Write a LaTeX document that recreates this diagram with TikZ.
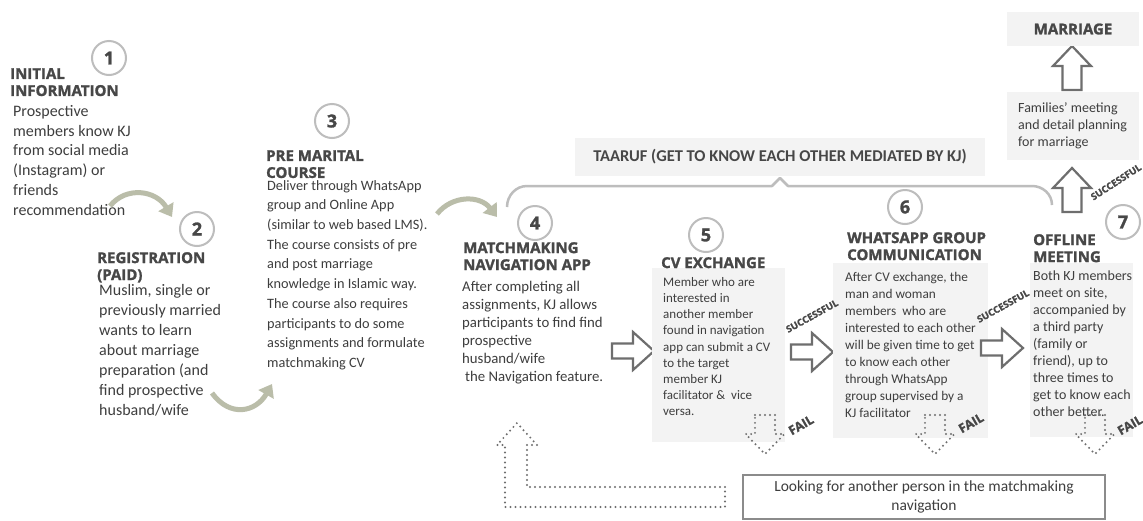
\documentclass[tikz,border=0pt]{standalone}
\usepackage{fontspec}
\setmainfont{Carlito}
\newfontfamily\headfont{Open Sans}[BoldFeatures={FakeBold=1.5}]
\usetikzlibrary{positioning,calc,arrows.meta}
\definecolor{txtgray}{HTML}{3E3E3E}
\definecolor{headgray}{HTML}{474747}
\definecolor{ringgray}{HTML}{BDBDBD}
\definecolor{boxfill}{HTML}{F3F3F3}
\definecolor{arrgray}{HTML}{6E6E6E}
\definecolor{sagegray}{HTML}{BABDA9}
\tikzset{
	numring/.style={circle, draw=ringgray, line width=2pt, minimum size=34pt, inner sep=0pt,
		font=\headfont\bfseries\fontsize{18}{18}\selectfont, text=headgray}
}
\tikzset{
	headtext/.style={anchor=north west, inner sep=0pt, align=left,
		font=\headfont\bfseries\fontsize{15}{17}\selectfont, text=headgray},
	bodytext/.style={anchor=north west, inner sep=0pt, align=left, text=txtgray},
	greybox/.style={fill=boxfill, draw=none},
	blockline/.style={draw=arrgray, line width=2.2pt, fill=white, line join=miter},
	dotline/.style={draw=arrgray, line width=2.2pt, dash pattern=on 0pt off 5pt, line cap=round},
	curvy/.style={draw=sagegray, line width=5pt, -{Triangle[length=12pt,width=17pt]}},
	tagtext/.style={font=\headfont\bfseries\fontsize{9.5}{9.5}\selectfont, text=headgray, inner sep=0pt},
	failtext/.style={font=\headfont\bfseries\fontsize{12.5}{12.5}\selectfont, text=headgray, inner sep=0pt}
}
\tikzset{
	pics/blockarr/.style={code={
		\draw[blockline] (0,-7.5) -- (21,-7.5) -- (21,-19) -- (42,0) -- (21,19) -- (21,7.5) -- (0,7.5) -- cycle;
	}},
	pics/uparr/.style={code={
		\draw[blockline] (0,-9.5) -- (24,-9.5) -- (24,-19) -- (44,0) -- (24,19) -- (24,9.5) -- (0,9.5) -- cycle;
	}},
	pics/failarr/.style={code={
		\draw[dotline] (-10,0) -- (10,0) -- (10,19) -- (19.5,19) -- (0,39) -- (-19.5,19) -- (-10,19) -- cycle;
	}}
}

\begin{document}
\begin{tikzpicture}[x=1pt, y=-1pt]
	\useasboundingbox (0,0) rectangle (1143,520);
	\fill[white] (0,0) rectangle (1143,520);

	% step 1
	\node[numring] (n1) at (109,58) {1};
	\node[headtext] (h1) at (10,68) {INITIAL\\INFORMATION};
	\node[bodytext, font=\fontsize{16}{19.8}\selectfont] (t1) at (13,105)
		{Prospective\\members know KJ\\from social media\\(Instagram) or\\friends\\recommendation};
	\draw[curvy] (110,206) .. controls (126,186) and (156,190) .. (172,217);

	% step 2
	\node[numring] (n2) at (197,229) {2};
	\node[headtext] (h2) at (97,252) {REGISTRATION\\(PAID)};
	\node[bodytext, font=\fontsize{16}{20}\selectfont] (t2) at (99,284)
		{Muslim, single or\\previously married\\wants to learn\\about marriage\\preparation (and\\find prospective\\husband/wife};
	\draw[curvy] (212,393) .. controls (230,418) and (256,412) .. (272,384);

	% step 3
	\node[numring] (n3) at (332,121) {3};
	\node[headtext] (h3) at (266,150) {PRE MARITAL\\COURSE};
	\node[bodytext, font=\fontsize{14.3}{19.7}\selectfont] (t3) at (267,180)
		{Deliver through WhatsApp\\group and Online App\\(similar to web based LMS).\\The course consists of pre\\and post marriage\\knowledge in Islamic way.\\The course also requires\\participants to do some\\assignments and formulate\\matchmaking CV};
	\draw[curvy] (437,214) .. controls (452,195) and (480,195) .. (497,217);

	% taaruf bracket
	\node[greybox, minimum width=410pt, minimum height=38pt,
		font=\bfseries\fontsize{16.5}{16.5}\selectfont, text=headgray] (taaruf) at (780,157)
		{TAARUF (GET TO KNOW EACH OTHER MEDIATED BY KJ)};
	\draw[ringgray, line width=2.5pt, line join=round]
		(507,207) to[out=90, in=180] (527,186) -- (772,186) -- (780,178) -- (788,186)
		-- (1032,186) to[out=0, in=90] (1052,205);

	% step 4
	\node[numring] (n4) at (535,223) {4};
	\node[headtext] (h4) at (463,242) {MATCHMAKING\\NAVIGATION APP};
	\node[bodytext, font=\fontsize{14.8}{18}\selectfont] (t4) at (462,281)
		{After completing all\\assignments, KJ allows\\participants to find find\\prospective\\husband/wife\\\hspace{3pt}the Navigation feature.};
	\pic at (612,351) {blockarr};

	% step 5
	\fill[boxfill] (652,268) rectangle (785,442);
	\node[numring] (n5) at (706,235) {5};
	\node[headtext] (h5) at (661,257) {CV EXCHANGE};
	\node[bodytext, font=\fontsize{13}{16.2}\selectfont] (t5) at (663,277)
		{Member who are\\interested in\\another member\\found in navigation\\app can submit a CV\\to the target\\member KJ\\facilitator \&\ \ vice\\versa.};
	\pic at (765,415) {failarr};
	\node[failtext, rotate=30] (f5) at (801,425) {FAIL};
	\pic at (791,352) {blockarr};

	% step 6
	\fill[boxfill] (833,263) rectangle (988,438);
	\node[tagtext, rotate=29] (s5) at (812,316) {SUCCESSFUL};
	\node[numring] (n6) at (905,207) {6};
	\node[headtext] (h6) at (847,232) {WHATSAPP GROUP\\COMMUNICATION};
	\node[bodytext, font=\fontsize{13.3}{17}\selectfont] (t6) at (845,272)
		{After CV exchange, the\\man and woman\\members\ \ who are\\interested to each other\\will be given time to get\\to know each other\\through WhatsApp\\group supervised by a\\KJ facilitator};
	\pic at (935,415) {failarr};
	\node[failtext, rotate=30] (f6) at (971,423) {FAIL};
	\pic at (981,348) {blockarr};

	% step 7
	\fill[boxfill] (1030,263) rectangle (1133,437);
	\node[tagtext, rotate=29] (s6) at (1003,306) {SUCCESSFUL};
	\node[numring] (n7) at (1123,222) {7};
	\node[headtext] (h7) at (1033,234) {OFFLINE\\MEETING};
	\node[bodytext, font=\fontsize{14}{17}\selectfont] (t7) at (1033,271)
		{Both KJ members\\meet on site,\\accompanied by\\a third party\\(family or\\friend), up to\\three times to\\get to know each\\other better.};
	\pic at (1095,415) {failarr};
	\node[failtext, rotate=30] (f7) at (1130,425) {FAIL};

	% families and marriage
	\pic[rotate=90] at (1072,212) {uparr};
	\node[tagtext, rotate=33] (s7) at (1116,182) {SUCCESSFUL};
	\fill[boxfill] (1007,92) rectangle (1139,160);
	\node[bodytext, font=\fontsize{14}{17}\selectfont] (fam) at (1018,102)
		{Families’ meeting\\and detail planning\\for marriage};
	\pic[rotate=90] at (1072,90) {uparr};
	\node[greybox, minimum width=132pt, minimum height=34pt, anchor=center,
		font=\headfont\bfseries\fontsize{15}{15}\selectfont, text=headgray] (marr) at (1073,29) {MARRIAGE};

	% back to navigation
	\node[draw=arrgray!80, line width=2pt, fill=white, minimum width=362pt, minimum height=44pt,
		align=center, font=\fontsize{15.5}{19}\selectfont, text=txtgray] (look) at (924,497)
		{Looking for another person in the matchmaking\\navigation};
	\draw[dotline] ($(look.west)+(-17,-10)$) coordinate (lt) -- (527,487) -- (527,445) -- (537,445)
		-- (517,423) -- (497,445) -- (505,445) -- (505,507) -- ($(look.west)+(-17,10)$) -- cycle;
\end{tikzpicture}
\end{document}
